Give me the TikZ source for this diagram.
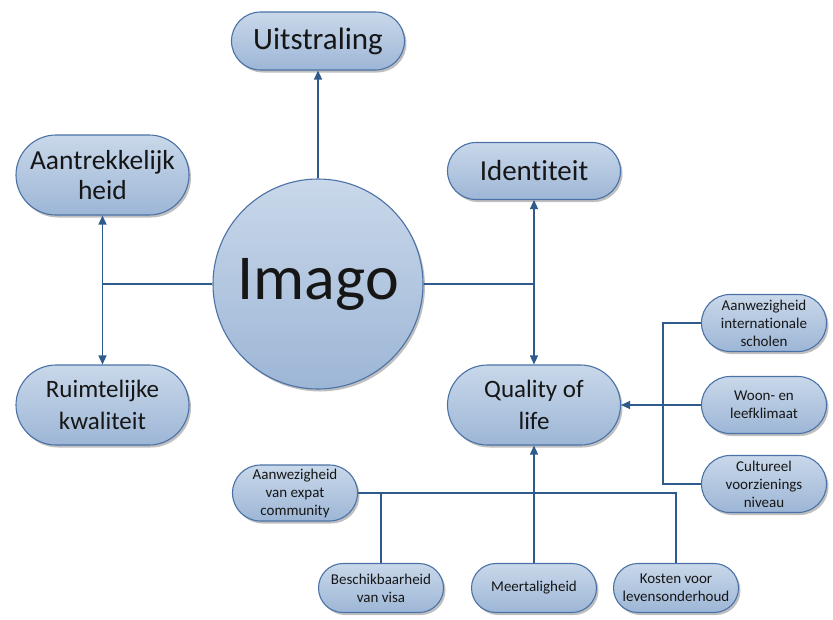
\documentclass[tikz,border=0pt]{standalone}
\usepackage{fontspec}
\setmainfont[Ligatures=NoCommon, RawFeature={-liga;-clig;-calt;-dlig}]{Carlito}
\usetikzlibrary{shapes.misc,shadows,arrows.meta}

\definecolor{nodeborder}{HTML}{4A72A6}
\definecolor{nodetop}{HTML}{C9D8EA}
\definecolor{nodebottom}{HTML}{9DB6D6}
\definecolor{linkcol}{HTML}{2F5A8C}
\definecolor{textcol}{HTML}{161616}

\tikzset{
  box/.style={rounded rectangle, draw=nodeborder, line width=1.1pt,
    top color=nodetop, bottom color=nodebottom, text=textcol,
    align=center, inner sep=1pt,
    drop shadow={shadow xshift=2pt, shadow yshift=-2.5pt, opacity=0.25, fill=black}},
  bigbox/.style={box, minimum width=175pt, font=\fontsize{26}{32}\selectfont},
  smallbox/.style={box, minimum width=127pt, font=\fontsize{15}{18}\selectfont},
  hub/.style={circle, draw=nodeborder, line width=1.1pt,
    top color=nodetop, bottom color=nodebottom, text=textcol,
    minimum size=210pt, inner sep=0pt, font=\fontsize{64}{72}\selectfont,
    drop shadow={shadow xshift=2pt, shadow yshift=-2.5pt, opacity=0.25, fill=black}},
  link/.style={draw=linkcol, line width=1.3pt},
  arrowlink/.style={link, -{Triangle[length=9pt,width=8pt]}},
  twowaylink/.style={link, {Triangle[length=9pt,width=8pt]}-{Triangle[length=9pt,width=8pt]}}
}

\begin{document}
\begin{tikzpicture}[x=1pt, y=-1pt]
  \path[use as bounding box] (0,0) rectangle (833,619);

  % central circle
  \node[hub] (imago) at (318,284) {Imago};

  % first ring
  \node[bigbox, minimum height=58pt, font=\fontsize{31}{36}\selectfont] (uit) at (318,41) {Uitstraling};
  \node[bigbox, minimum height=80pt, font=\fontsize{27.5}{30}\selectfont] (aantr) at (102.5,175) {Aantrekkelijk\\heid};
  \node[bigbox, minimum height=57pt, font=\fontsize{29}{34}\selectfont] (ident) at (534,171) {Identiteit};
  \node[bigbox, minimum height=80pt, font=\fontsize{25}{32}\selectfont] (ruim) at (102.5,405) {Ruimtelijke\\kwaliteit};
  \node[bigbox, minimum height=80pt, font=\fontsize{25}{32}\selectfont] (qol) at (534,405) {Quality of\\life};

  % factors on the right
  \node[smallbox, minimum height=57pt] (scholen) at (764,323) {Aanwezigheid\\internationale\\scholen};
  \node[smallbox, minimum height=57pt] (woon) at (764,405) {Woon- en\\leefklimaat};
  \node[smallbox, minimum height=57pt] (cultuur) at (764,484) {Cultureel\\voorzienings\\niveau};

  % factors below
  \node[smallbox, minimum height=56pt] (expat) at (295,493) {Aanwezigheid\\van expat\\community};
  \node[smallbox, minimum height=49pt] (visa) at (381,588) {Beschikbaarheid\\van visa};
  \node[smallbox, minimum height=49pt] (meer) at (534,588) {Meertaligheid};
  \node[smallbox, minimum height=49pt] (kosten) at (676,588) {Kosten voor\\levensonderhoud};

  % connectors
  \draw[arrowlink] (imago.north) -- (uit.south);
  \draw[twowaylink] (aantr.south) -- (ruim.north);
  \draw[link] (imago.west) -- (imago.west -| aantr.south);
  \draw[twowaylink] (ident.south) -- (qol.north);
  \draw[link] (imago.east) -- (imago.east -| qol.north);

  \coordinate (bus) at (663,405);
  \draw[link] (scholen.west) -| (bus) |- (cultuur.west);
  \draw[arrowlink] (woon.west) -- (qol.east);

  \draw[arrowlink] (meer.north) -- (qol.south);
  \draw[link] (expat.east) -| (kosten.north);
  \draw[link] (visa.north) -- (visa.north |- expat.east);
\end{tikzpicture}
\end{document}
